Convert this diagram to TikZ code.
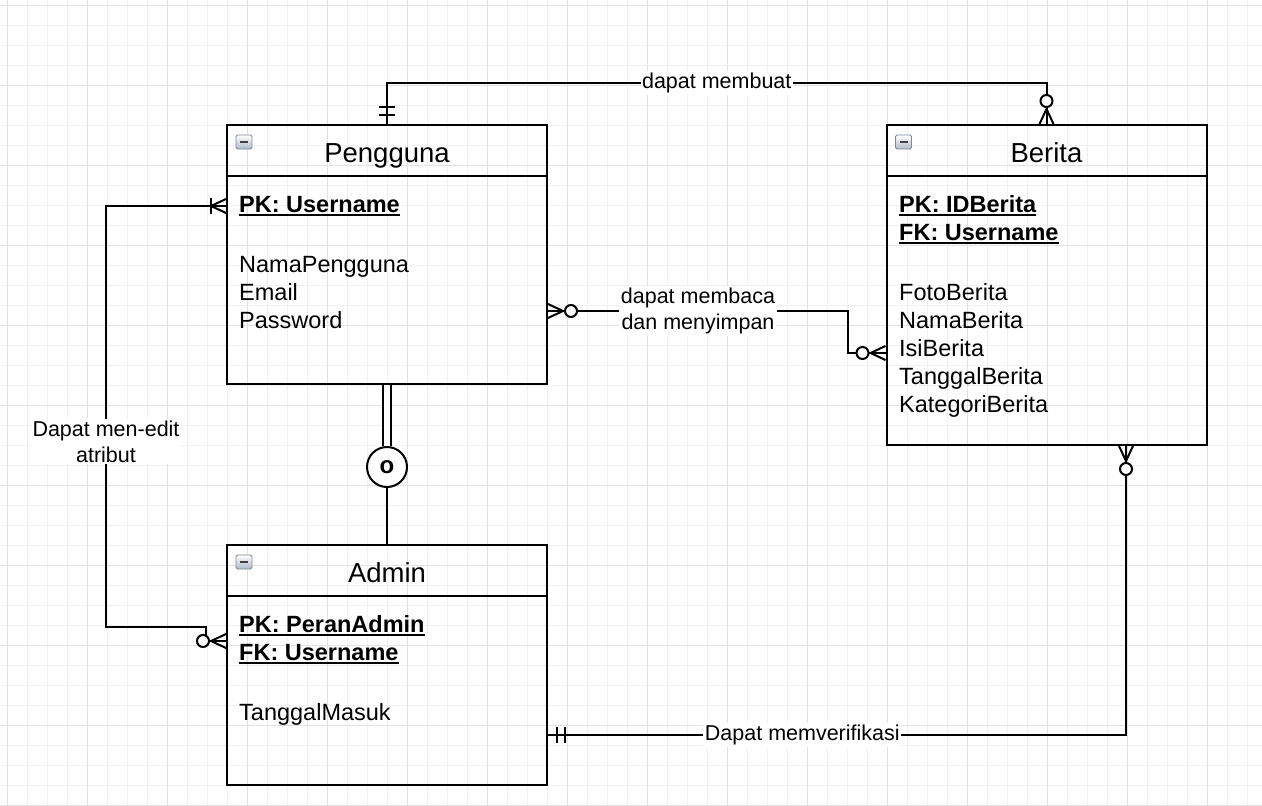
\documentclass[tikz,border=0pt]{standalone}
\usepackage{fontspec}
\setmainfont{Liberation Sans}
\usetikzlibrary{positioning}
\definecolor{gridminor}{RGB}{241,241,241}
\definecolor{gridmajor}{RGB}{226,226,226}
\definecolor{iconedge}{RGB}{125,135,150}
\definecolor{iconfill}{RGB}{175,185,200}
% underline for key attributes
\newcommand{\ulkey}[1]{\setbox0\hbox{#1}\rlap{\rule[-3pt]{\wd0}{1.8pt}}\box0}

\begin{document}
\begin{tikzpicture}[
  x=1pt, y=-1pt,
  minorgrid/.style={draw=gridminor, line width=1pt},
  majorgrid/.style={draw=gridmajor, line width=1pt},
  entity/.style={rectangle, draw, line width=2pt, minimum width=320pt, inner sep=0pt},
  enttitle/.style={anchor=base, inner sep=0pt, font=\fontsize{27.5}{33}\selectfont},
  keyattr/.style={anchor=base west, inner sep=0pt, font=\fontsize{23.5}{28}\selectfont\bfseries},
  attr/.style={anchor=base west, inner sep=0pt, font=\fontsize{23.5}{28}\selectfont},
  rel/.style={draw, line width=2pt},
  rellabel/.style={fill=white, align=center, inner sep=1.5pt, font=\fontsize{21.5}{26}\selectfont},
  disjoint/.style={circle, draw, line width=2pt, fill=white, minimum size=40pt, inner sep=0pt, font=\fontsize{24}{26}\selectfont\bfseries},
  pics/zeromany/.style={code={
    \draw[rel] (0,-7) -- (15,0) -- (0,7);
    \draw[rel] (0,0) -- (15,0);
    \draw[rel, fill=white] (23,0) circle[radius=6pt];
  }},
  pics/onemany/.style={code={
    \draw[rel] (0,-7) -- (15,0) -- (0,7);
    \draw[rel] (0,0) -- (15,0);
    \draw[rel] (15,-8) -- (15,8);
  }},
  pics/mandone/.style={code={
    \draw[rel] (9,-8) -- (9,8);
    \draw[rel] (17,-8) -- (17,8);
  }},
  pics/collapse/.style={code={
    \draw[draw=iconedge, line width=0.8pt, rounded corners=1.5pt, top color=white, bottom color=iconfill] (0,0) rectangle (16,14);
    \draw[line width=2.2pt, black!75] (4,7) -- (12,7);
  }}
]
\useasboundingbox (0,0) rectangle (1262,806);

% grid
\foreach \gx in {7,27,...,1262} \draw[minorgrid] (\gx,0) -- (\gx,806);
\foreach \gy in {5,25,...,806} \draw[minorgrid] (0,\gy) -- (1262,\gy);
\foreach \gx in {7,87,...,1262} \draw[majorgrid] (\gx,0) -- (\gx,806);
\foreach \gy in {5,85,...,806} \draw[majorgrid] (0,\gy) -- (1262,\gy);

% entities
\node[entity, minimum height=259pt] (peng) at (387,254.5) {};
\node[entity, minimum height=320pt] (berita) at (1046.5,285) {};
\node[entity, minimum height=240pt] (admin) at (387,665) {};

\foreach \ent in {peng,berita,admin} {
  \draw[rel] ([yshift=-52pt]\ent.north west) -- ([yshift=-52pt]\ent.north east);
  \pic at ([xshift=10pt,yshift=-11pt]\ent.north west) {collapse};
}

\node[enttitle] (peng-title) at ([yshift=-38pt]peng.north) {Pengguna};
\node[enttitle] (berita-title) at ([yshift=-38pt]berita.north) {Berita};
\node[enttitle] (admin-title) at ([yshift=-38pt]admin.north) {Admin};

% Pengguna attributes
\node[keyattr] (peng-pk) at (239,212.5) {\ulkey{PK: Username}};
\foreach \t [count=\i] in {NamaPengguna,Email,Password}
  \node[attr] (peng-a\i) at (239,{244.5+28*\i}) {\t};

% Berita attributes
\node[keyattr] (berita-pk) at (899,212.5) {\ulkey{PK: IDBerita}};
\node[keyattr] (berita-fk) at (899,240.5) {\ulkey{FK: Username}};
\foreach \t [count=\i] in {FotoBerita,NamaBerita,IsiBerita,TanggalBerita,KategoriBerita}
  \node[attr] (berita-a\i) at (899,{272.5+28*\i}) {\t};

% Admin attributes
\node[keyattr] (admin-pk) at (239,632.5) {\ulkey{PK: PeranAdmin}};
\node[keyattr] (admin-fk) at (239,660.5) {\ulkey{FK: Username}};
\node[attr] (admin-a1) at (239,720.5) {TanggalMasuk};

% relationships
\draw[rel] (peng.north) -- ++(0,-41) -| node[rellabel, pos=0.25] {dapat membuat} (berita.north);
\draw[rel] ([yshift=-56.5pt]peng.east) -- node[rellabel] {dapat membaca\\dan menyimpan} ++(300,0) |- ([yshift=-68pt]berita.west);
\draw[rel] ([yshift=-82pt]peng.north west) -| node[rellabel, pos=0.78] {Dapat men-edit\\atribut} ([xshift=-120pt,yshift=38pt]admin.west)
  -- ([xshift=-20pt,yshift=38pt]admin.west) -- ([xshift=-20pt,yshift=24pt]admin.west) -- ([yshift=24pt]admin.west);
\draw[rel] ([yshift=-70pt]admin.east) -| node[rellabel, pos=0.22] {Dapat memverifikasi} ([xshift=79.5pt]berita.south);

\node[disjoint, below=61pt of peng.south] (disj) {o};
\draw[rel, double, double distance=6pt] (peng.south) -- (disj.north);
\draw[rel] (disj.south) -- (admin.north);

% end markers
\pic[rotate=90] at (peng.north) {mandone};
\pic[rotate=90] at (berita.north) {zeromany};
\pic at ([yshift=-56.5pt]peng.east) {zeromany};
\pic[rotate=180] at ([yshift=-68pt]berita.west) {zeromany};
\pic[rotate=180] at ([yshift=-82pt]peng.north west) {onemany};
\pic[rotate=180] at ([yshift=24pt]admin.west) {zeromany};
\pic at ([yshift=-70pt]admin.east) {mandone};
\pic[rotate=-90] at ([xshift=79.5pt]berita.south) {zeromany};
\end{tikzpicture}
\end{document}
